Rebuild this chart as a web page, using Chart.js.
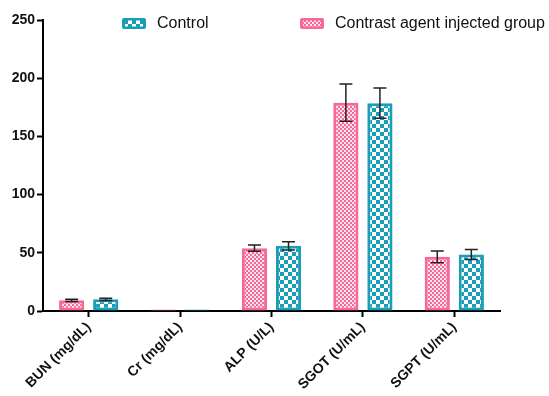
<!DOCTYPE html>
<html>
<head>
<meta charset="utf-8">
<script src="https://cdn.jsdelivr.net/npm/chart.js@4.4.1/dist/chart.umd.min.js"></script>
<style>
  html, body { margin: 0; padding: 0; background: #fff; }
  #wrap { width: 549px; height: 396px; position: relative; }
</style>
</head>
<body>
<div id="wrap"><canvas id="chart"></canvas></div>
<script>
// Serum markers, mean ± SD per group
const categories = ['BUN (mg/dL)', 'Cr (mg/dL)', 'ALP (U/L)', 'SGOT (U/mL)', 'SGPT (U/mL)'];
const contrastMeans = [9.2, 1.3, 54, 179, 46.5];
const contrastErrors = [1, 0.2, 2.7, 16, 5];
const controlMeans = [10, 1.3, 56, 178.5, 48.5];
const controlErrors = [1, 0.2, 3.5, 13, 4.3];
const yTicks = [0, 50, 100, 150, 200, 250];

const PINK = '#F7689A';
const TEAL = '#1A9DB6';

// checkerboard fill, cell = size of one square
function checker(color, light, cell) {
  const c = document.createElement('canvas');
  c.width = c.height = cell * 2;
  const g = c.getContext('2d');
  g.fillStyle = light;
  g.fillRect(0, 0, cell * 2, cell * 2);
  g.fillStyle = color;
  g.fillRect(0, 0, cell, cell);
  g.fillRect(cell, cell, cell, cell);
  return g.createPattern(c, 'repeat');
}

const pinkFill = checker(PINK, '#FDE3EC', 2);
const tealFill = checker(TEAL, '#FFFFFF', 4);

// error bars drawn on top of each bar
const errorBars = {
  id: 'errorBars',
  afterDatasetsDraw(chart) {
    const { ctx, scales: { y } } = chart;
    ctx.save();
    ctx.strokeStyle = '#222';
    ctx.lineWidth = 1.5;
    chart.data.datasets.forEach((ds, di) => {
      const meta = chart.getDatasetMeta(di);
      meta.data.forEach((bar, i) => {
        const m = ds.data[i], e = ds.errors[i];
        if (e < 0.5) return;
        const top = y.getPixelForValue(m + e);
        const bot = y.getPixelForValue(m - e);
        const x = bar.x;
        ctx.beginPath();
        ctx.moveTo(x, top); ctx.lineTo(x, bot);
        ctx.moveTo(x - 6.5, top); ctx.lineTo(x + 6.5, top);
        ctx.moveTo(x - 6.5, bot); ctx.lineTo(x + 6.5, bot);
        ctx.stroke();
      });
    });
    ctx.restore();
  }
};

// legend sits over the top of the plot, control first
const topLegend = {
  id: 'topLegend',
  afterDraw(chart) {
    const ctx = chart.ctx;
    const items = [
      { label: 'Control', fill: tealFill, border: TEAL, x: 122 },
      { label: 'Contrast agent injected group', fill: pinkFill, border: PINK, x: 300 }
    ];
    ctx.save();
    ctx.font = '16px "Liberation Sans", Arial, sans-serif';
    ctx.textBaseline = 'middle';
    items.forEach(it => {
      ctx.fillStyle = it.border;
      ctx.beginPath();
      ctx.roundRect(it.x, 18, 24, 11, 2);
      ctx.fill();
      ctx.fillStyle = it.fill;
      ctx.fillRect(it.x + 3, 20.5, 18, 6);
      ctx.fillStyle = '#111';
      ctx.fillText(it.label, it.x + 35, 24);
    });
    ctx.restore();
  }
};

const tickFont = { family: '"Liberation Sans", Arial, sans-serif', size: 14, weight: 'bold' };

new Chart(document.getElementById('chart'), {
  type: 'bar',
  data: {
    labels: categories,
    datasets: [
      {
        label: 'Contrast agent injected group',
        data: contrastMeans,
        errors: contrastErrors,
        backgroundColor: pinkFill,
        borderColor: PINK,
        borderWidth: 3,
        borderSkipped: false,
        categoryPercentage: 0.745,
        barPercentage: 0.74
      },
      {
        label: 'Control',
        data: controlMeans,
        errors: controlErrors,
        backgroundColor: tealFill,
        borderColor: TEAL,
        borderWidth: 3,
        borderSkipped: false,
        categoryPercentage: 0.745,
        barPercentage: 0.74
      }
    ]
  },
  options: {
    responsive: true,
    maintainAspectRatio: false,
    animation: false,
    layout: { padding: { top: 20, right: 49, left: 0, bottom: 0 } },
    plugins: {
      legend: { display: false },
      tooltip: { enabled: false }
    },
    scales: {
      x: {
        grid: { offset: false, drawOnChartArea: false, drawTicks: true, tickLength: 6, tickWidth: 2, tickColor: '#000' },
        border: { color: '#000', width: 2 },
        ticks: { font: tickFont, color: '#111', minRotation: 45, maxRotation: 45, padding: 2 },
        afterFit(scale) { scale.height = 85; }
      },
      y: {
        min: 0,
        max: 250,
        afterBuildTicks(scale) { scale.ticks = yTicks.map(v => ({ value: v })); },
        grid: { drawOnChartArea: false, drawTicks: true, tickLength: 6, tickWidth: 2, tickColor: '#000' },
        border: { color: '#000', width: 2 },
        ticks: { font: tickFont, color: '#111', padding: 2 },
        afterFit(scale) { scale.width = 43; }
      }
    }
  },
  plugins: [errorBars, topLegend]
});
</script>
</body>
</html>
